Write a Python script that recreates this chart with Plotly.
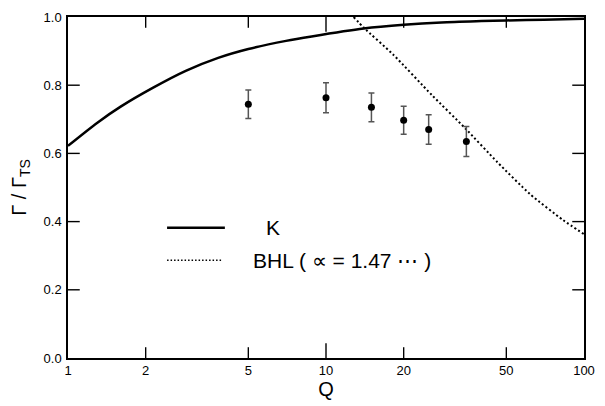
import plotly.graph_objects as go

# Data
k_q = [1.0, 1.3, 1.6, 2.13, 2.86, 3.82, 5.0, 7.0, 8.8, 14.0, 20.0, 28.0, 40.0, 50.0, 70.0, 100.0]
k_val = [0.622, 0.690, 0.737, 0.792, 0.842, 0.880, 0.906, 0.930, 0.943, 0.966, 0.977, 0.984, 0.988, 0.990, 0.992, 0.995]

bhl_q = [12.8, 14.0, 18.2, 25.8, 34.6, 46.2, 61.9, 82.8, 100.0]
bhl_val = [1.0, 0.969, 0.890, 0.770, 0.674, 0.574, 0.480, 0.405, 0.363]

exp_q = [5, 10, 15, 20, 25, 35]
exp_val = [0.744, 0.763, 0.735, 0.697, 0.670, 0.635]
exp_err = [0.042, 0.044, 0.042, 0.041, 0.043, 0.044]

x_ticks = [1, 2, 5, 10, 20, 50, 100]
x_ticklabels = ["1", "2", "5", "10", "20", "50", "100"]
y_ticks = [0.0, 0.2, 0.4, 0.6, 0.8, 1.0]
y_ticklabels = ["0.0", "0.2", "0.4", "0.6", "0.8", "1.0"]

legend_k = "K"
legend_bhl = "BHL ( ∝ = 1.47 ⋯ )"

FONT = "Liberation Sans, Arial, sans-serif"

WIDTH, HEIGHT = 605, 406
MARGIN = dict(l=68, r=10, t=15, b=43)
X_RANGE = [0, 2]      # log10 range
Y_RANGE = [0.0, 1.0]
PLOT_W = WIDTH - MARGIN["l"] - MARGIN["r"]
PLOT_H = HEIGHT - MARGIN["t"] - MARGIN["b"]

fig = go.Figure()
fig.add_trace(go.Scatter(x=k_q, y=k_val, mode="lines",
                         line=dict(color="black", width=2.5, shape="spline", smoothing=0.8),
                         showlegend=False, hoverinfo="skip"))
fig.add_trace(go.Scatter(x=bhl_q, y=bhl_val, mode="lines",
                         line=dict(color="black", width=2, dash="2px,2.5px", shape="spline", smoothing=0.6),
                         showlegend=False, hoverinfo="skip"))
fig.add_trace(go.Scatter(x=exp_q, y=exp_val, mode="markers",
                         marker=dict(color="black", size=7),
                         error_y=dict(type="data", array=exp_err, visible=True, color="#555555", thickness=1.5, width=3),
                         showlegend=False, hoverinfo="skip"))

# Inside tick marks on all four sides, drawn as capless error bars
# (pixel lengths converted to axis units)
y_span = Y_RANGE[1] - Y_RANGE[0]
x_span = X_RANGE[1] - X_RANGE[0]
inner_x = x_ticks[1:-1]
tick_len_y = [(15 if v == 10 else 11) / PLOT_H * y_span for v in inner_x]
zeros_x = [0.0] * len(inner_x)
invisible = dict(size=2, color="rgba(0,0,0,0)")
tick_style = dict(type="data", visible=True, color="black", thickness=1.4, width=0)

# bottom ticks
fig.add_trace(go.Scatter(x=inner_x, y=[Y_RANGE[0]] * len(inner_x), mode="markers", marker=invisible,
                         error_y=dict(array=tick_len_y, arrayminus=zeros_x, symmetric=False, **tick_style),
                         showlegend=False, hoverinfo="skip", cliponaxis=False))
# top ticks
fig.add_trace(go.Scatter(x=inner_x, y=[Y_RANGE[1]] * len(inner_x), mode="markers", marker=invisible,
                         error_y=dict(array=zeros_x, arrayminus=tick_len_y, symmetric=False, **tick_style),
                         showlegend=False, hoverinfo="skip", cliponaxis=False))

inner_y = y_ticks[1:-1]
fx = 10 ** (12 / PLOT_W * x_span)
x_lo, x_hi = 10 ** X_RANGE[0], 10 ** X_RANGE[1]
zeros_y = [0.0] * len(inner_y)
# left ticks
fig.add_trace(go.Scatter(x=[x_lo] * len(inner_y), y=inner_y, mode="markers", marker=invisible,
                         error_x=dict(array=[x_lo * fx - x_lo] * len(inner_y), arrayminus=zeros_y,
                                      symmetric=False, **tick_style),
                         showlegend=False, hoverinfo="skip", cliponaxis=False))
# right ticks
fig.add_trace(go.Scatter(x=[x_hi] * len(inner_y), y=inner_y, mode="markers", marker=invisible,
                         error_x=dict(array=zeros_y, arrayminus=[x_hi - x_hi / fx] * len(inner_y),
                                      symmetric=False, **tick_style),
                         showlegend=False, hoverinfo="skip", cliponaxis=False))

fig.update_xaxes(type="log", range=X_RANGE, tickmode="array", tickvals=x_ticks, ticktext=x_ticklabels,
                 ticks="", showline=True, linecolor="#000000", linewidth=1.5, mirror=True,
                 showgrid=False, zeroline=False,
                 tickfont=dict(size=13, family=FONT, color="#000000"),
                 title=dict(text="Q", font=dict(size=20, family=FONT, color="#000000"), standoff=4))
fig.update_yaxes(range=Y_RANGE, tickmode="array", tickvals=y_ticks, ticktext=y_ticklabels,
                 ticks="", showline=True, linecolor="#000000", linewidth=1.5, mirror=True,
                 showgrid=False, zeroline=False, ticklabelstandoff=2,
                 tickfont=dict(size=13, family=FONT, color="#000000"),
                 title=dict(text="Γ / Γ<sub>TS</sub>", font=dict(size=20, family=FONT, color="#000000"), standoff=12))

# Legend samples
shapes = [
    dict(type="line", xref="paper", yref="paper", x0=0.192, x1=0.304, y0=0.382, y1=0.382,
         line=dict(color="black", width=2.5)),
    dict(type="line", xref="paper", yref="paper", x0=0.192, x1=0.300, y0=0.287, y1=0.287,
         line=dict(color="black", width=1.5, dash="1.5px,2px")),
]

fig.update_layout(
    width=WIDTH, height=HEIGHT,
    margin=MARGIN,
    paper_bgcolor="white", plot_bgcolor="white",
    font=dict(family=FONT, color="#000000"),
    shapes=shapes,
    annotations=[
        dict(text=legend_k, xref="paper", yref="paper", x=0.38, y=0.382, xanchor="left", yanchor="middle",
             showarrow=False, font=dict(size=21, family=FONT)),
        dict(text=legend_bhl, xref="paper", yref="paper", x=0.355, y=0.287, xanchor="left", yanchor="middle",
             showarrow=False, font=dict(size=21, family=FONT)),
    ],
)

fig.write_html("out.html")
